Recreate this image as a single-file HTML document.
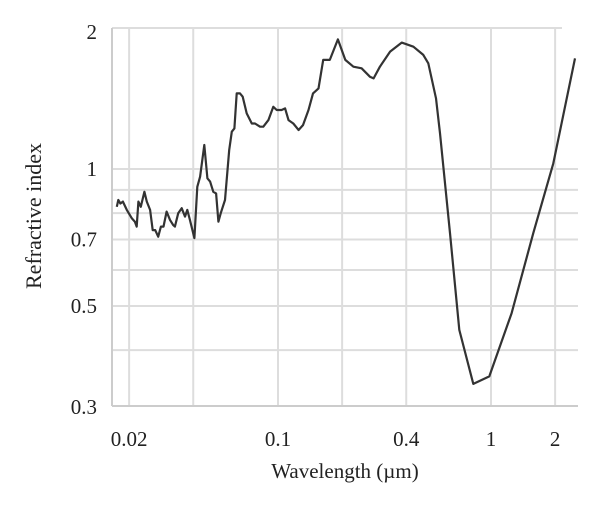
<!DOCTYPE html>
<html><head><meta charset="utf-8"><style>
body{margin:0;background:#fff;}
svg{display:block;font-family:"Liberation Serif",serif;}
</style></head><body>
<svg id="chart" width="600" height="511" viewBox="0 0 600 511">
<g id="grid"></g>
<g id="axes"></g>
<g id="labels"></g>
<path id="curve" fill="none" stroke="#333" stroke-width="2.2" stroke-linejoin="round"/>
<text x="345" y="478" text-anchor="middle" font-size="21" fill="#222">Wavelength (µm)</text>
<text transform="translate(41,216) rotate(-90)" text-anchor="middle" font-size="22" fill="#222">Refractive index</text>
</svg>
<script>
const wavelengths=[0.0175,0.0178,0.0182,0.0187,0.0195,0.0206,0.0213,0.0217,0.0221,0.0227,0.0236,0.0242,0.0251,0.0258,0.0265,0.0274,0.0282,0.0290,0.0300,0.0311,0.0322,0.0328,0.0340,0.0353,0.0366,0.0375,0.0386,0.0405,0.0418,0.0431,0.0451,0.0466,0.0480,0.0497,0.0512,0.0525,0.0538,0.0564,0.0590,0.0607,0.0624,0.0640,0.0663,0.0683,0.0713,0.0753,0.0780,0.0823,0.0853,0.0901,0.0950,0.0986,0.104,0.108,0.112,0.118,0.125,0.131,0.139,0.146,0.155,0.163,0.175,0.191,0.207,0.226,0.247,0.270,0.281,0.301,0.336,0.381,0.432,0.481,0.508,0.552,0.576,0.642,0.710,0.826,0.982,1.25,1.58,1.96,2.48];
const indices=[0.826,0.855,0.840,0.848,0.813,0.779,0.766,0.747,0.848,0.826,0.891,0.848,0.813,0.734,0.734,0.710,0.747,0.747,0.806,0.773,0.753,0.747,0.799,0.820,0.786,0.813,0.773,0.705,0.914,0.962,1.129,0.954,0.938,0.891,0.884,0.766,0.799,0.855,1.101,1.208,1.228,1.466,1.466,1.442,1.325,1.259,1.259,1.239,1.239,1.281,1.370,1.348,1.348,1.359,1.281,1.259,1.218,1.249,1.348,1.466,1.504,1.737,1.737,1.927,1.737,1.678,1.665,1.595,1.582,1.678,1.811,1.896,1.857,1.781,1.707,1.430,1.198,0.723,0.443,0.337,0.350,0.482,0.723,1.029,1.75];
const xGrid=[0.02,0.04,0.1,0.2,0.4,1,2];
const xTickLabels=["0.02","0.1","0.4","1","2"];
const xTickValues=[0.02,0.1,0.4,1,2];
const yGrid=[0.4,0.5,0.6,0.7,0.8,0.9,1];
const yTickLabels=["2","1","0.7","0.5","0.3"];
const yTickValues=[2,1,0.7,0.5,0.3];

const X=w=>278+213*Math.log10(w/0.1);
const Y=n=>169-455*Math.log10(n);
const NS="http://www.w3.org/2000/svg";
function mk(tag,parent,attrs){const e=document.createElementNS(NS,tag);for(const k in attrs)e.setAttribute(k,attrs[k]);parent.appendChild(e);return e;}
const gridG=document.getElementById('grid'),axesG=document.getElementById('axes'),labelsG=document.getElementById('labels');
xGrid.forEach(v=>{const l=mk('line',gridG,{x1:X(v),x2:X(v),y1:28,y2:406,stroke:'#ddd','stroke-width':2});

});
yGrid.forEach(v=>{const l=mk('line',gridG,{x1:112,x2:578,y1:Y(v),y2:Y(v),stroke:'#ddd','stroke-width':2});

});
const topBorder=mk('line',gridG,{x1:112,x2:562,y1:28,y2:28,stroke:'#ddd','stroke-width':2});


const yAxisLine=mk('line',axesG,{x1:112,x2:112,y1:28,y2:406,stroke:'#ccc','stroke-width':2});


const xAxisLine=mk('line',axesG,{x1:112,x2:578,y1:406,y2:406,stroke:'#ccc','stroke-width':2});


xTickValues.forEach((v,i)=>{const t=mk('text',labelsG,{x:X(v),y:446,'text-anchor':'middle','font-size':21,fill:'#222'});t.textContent=xTickLabels[i];

});
yTickValues.forEach((v,i)=>{const t=mk('text',labelsG,{x:97,y:Y(v)+7,'text-anchor':'end','font-size':21,fill:'#222'});t.textContent=yTickLabels[i];

});
document.getElementById('curve').setAttribute('d',wavelengths.map((w,i)=>(i?'L':'M')+X(w).toFixed(1)+','+Y(indices[i]).toFixed(1)).join(''));
</script>
</body></html>
